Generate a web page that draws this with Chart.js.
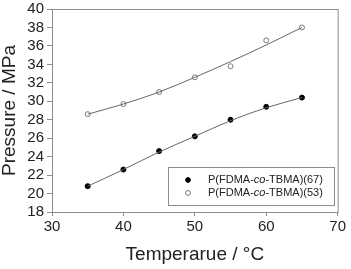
<!DOCTYPE html>
<html>
<head>
<meta charset="utf-8">
<script src="https://cdn.jsdelivr.net/npm/chart.js@4.4.0/dist/chart.umd.min.js"></script>
<style>
  html, body { margin: 0; padding: 0; background: #fff; }
  #wrap { width: 351px; height: 269px; position: relative; }
</style>
</head>
<body>
<div id="wrap"><canvas id="chart"></canvas></div>
<script>
// Data
const temps = [35, 40, 45, 50, 55, 60, 65];
const p67 = [20.8, 22.6, 24.6, 26.2, 28.0, 29.4, 30.4];
const p53 = [28.6, 29.7, 31.0, 32.6, 33.8, 36.6, 38.0];
// fitted curves, read at the same temperatures
const fit67 = [20.8, 22.6, 24.5, 26.2, 27.9, 29.3, 30.4];
const fit53 = [28.6, 29.7, 31.0, 32.6, 34.3, 36.1, 38.0];

const xTicks = [30, 40, 50, 60, 70];
const yTicks = [18, 20, 22, 24, 26, 28, 30, 32, 34, 36, 38, 40];
const legendLabels = ['P(FDMA-', 'co', '-TBMA)'];

const toXY = (ys) => temps.map((t, i) => ({ x: t, y: ys[i] }));
const axisColor = '#8c8c8c';
const font = 'Arial, "Liberation Sans", sans-serif';

// box around plot + legend inside the plot
const framePlugin = {
  id: 'frame',
  afterDraw(chart) {
    const { ctx, chartArea: a } = chart;
    ctx.save();
    ctx.strokeStyle = axisColor;
    ctx.lineWidth = 1;
    ctx.strokeRect(a.left + 0.5, a.top + 0.5, a.right - a.left, a.bottom - a.top);

    // legend
    const lx = 168.5, ly = 167.5, lw = 166, lh = 38;
    ctx.strokeRect(lx, ly, lw, lh);
    const rows = [
      { y: 180, fill: '#000', stroke: '#000', suffix: '(67)' },
      { y: 193, fill: '#fff', stroke: '#777', suffix: '(53)' },
    ];
    rows.forEach((r) => {
      ctx.beginPath();
      ctx.arc(188, r.y, 2.4, 0, Math.PI * 2);
      ctx.fillStyle = r.fill;
      ctx.fill();
      ctx.strokeStyle = r.stroke;
      ctx.stroke();
      ctx.fillStyle = '#222';
      ctx.textBaseline = 'middle';
      let x = 208;
      legendLabels.concat([r.suffix]).forEach((part, i) => {
        ctx.font = (i === 1 ? 'italic ' : '') + '11px ' + font;
        ctx.fillText(part, x, r.y);
        x += ctx.measureText(part).width;
      });
    });
    ctx.restore();
  },
};

new Chart(document.getElementById('chart'), {
  type: 'scatter',
  data: {
    datasets: [
      { data: toXY(fit67), showLine: true, borderColor: '#666', borderWidth: 1, pointRadius: 0, tension: 0.4, cubicInterpolationMode: 'monotone' },
      { data: toXY(fit53), showLine: true, borderColor: '#666', borderWidth: 1, pointRadius: 0, tension: 0.4, cubicInterpolationMode: 'monotone' },
      { data: toXY(p67), pointRadius: 2.5, pointBackgroundColor: '#000', pointBorderColor: '#000', pointBorderWidth: 1 },
      { data: toXY(p53), pointRadius: 2.5, pointBackgroundColor: '#fff', pointBorderColor: '#777', pointBorderWidth: 1 },
    ],
  },
  options: {
    responsive: true,
    maintainAspectRatio: false,
    animation: false,
    layout: { padding: { top: 6, right: 10, bottom: 5, left: 0 } },
    plugins: { legend: { display: false }, tooltip: { enabled: false } },
    scales: {
      x: {
        min: 30, max: 70,
        afterBuildTicks: (s) => { s.ticks = xTicks.map((v) => ({ value: v })); },
        afterFit: (s) => { s.height = 52; },
        grid: { drawOnChartArea: false, drawTicks: true, tickLength: 4, color: axisColor },
        border: { color: axisColor },
        ticks: { color: '#222', font: { family: font, size: 15, lineHeight: 0.8 }, padding: 5, maxRotation: 0, autoSkip: false },
        title: { display: true, text: 'Temperarue / \u00b0C', color: '#222', font: { family: font, size: 19, lineHeight: 1 }, padding: 0 },
      },
      y: {
        min: 18, max: 40,
        afterBuildTicks: (s) => { s.ticks = yTicks.map((v) => ({ value: v })); },
        afterFit: (s) => { s.width = 52; },
        grid: { drawOnChartArea: false, drawTicks: true, tickLength: 5, color: axisColor },
        border: { color: axisColor },
        ticks: { color: '#222', font: { family: font, size: 15, lineHeight: 0.8 }, padding: 3, autoSkip: false },
        title: { display: true, text: 'Pressure / MPa', color: '#222', font: { family: font, size: 19, lineHeight: 1 }, padding: 0 },
      },
    },
  },
  plugins: [framePlugin],
});
</script>
</body>
</html>
